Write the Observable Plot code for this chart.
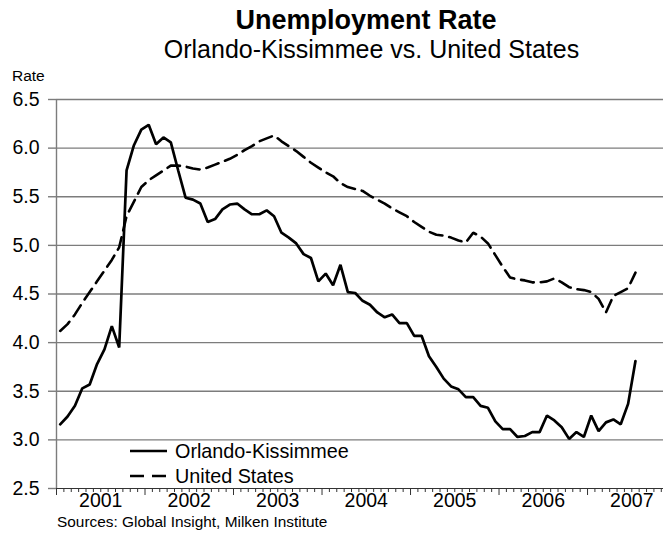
<!DOCTYPE html>
<html>
<head>
<meta charset="utf-8">
<script src="https://cdn.jsdelivr.net/npm/d3@7"></script>
<script src="https://cdn.jsdelivr.net/npm/@observablehq/plot@0.6"></script>
<style>
  html, body { margin: 0; padding: 0; background: white; }
  #wrap { position: relative; width: 663px; height: 541px; overflow: hidden; font-family: Arial, "Liberation Sans", sans-serif; color: black; }
  .t { position: absolute; white-space: nowrap; line-height: 1; }
  #plot { position: absolute; left: 0; top: 0; }
</style>
</head>
<body>
<div id="wrap">
  <div id="plot"></div>
  <div class="t" id="title" style="left:0;width:732px;text-align:center;top:7px;font-size:27px;font-weight:bold;">Unemployment Rate</div>
  <div class="t" id="subtitle" style="left:0;width:743px;text-align:center;top:37px;font-size:25px;">Orlando-Kissimmee vs. United States</div>
  <div class="t" id="ylab" style="left:12px;top:68px;font-size:15.5px;">Rate</div>
  <div class="t" id="source" style="left:57px;top:514px;font-size:15.4px;">Sources: Global Insight, Milken Institute</div>
  <svg id="legend" style="position:absolute;left:0;top:0;" width="663" height="541"></svg>
</div>
<script>
// ---- Data (monthly, starting Jan 2001) ----
const years = ["2001", "2002", "2003", "2004", "2005", "2006", "2007"];
const yTicks = [2.5, 3.0, 3.5, 4.0, 4.5, 5.0, 5.5, 6.0, 6.5];
const seriesNames = ["Orlando-Kissimmee", "United States"];
const orlando = [
  3.16, 3.24, 3.35, 3.53, 3.57, 3.78, 3.93, 4.17, 3.95, 5.77,
  6.03, 6.19, 6.24, 6.04, 6.11, 6.06, 5.77, 5.49, 5.47, 5.43,
  5.24, 5.27, 5.37, 5.42, 5.43, 5.37, 5.32, 5.32, 5.36, 5.30,
  5.13, 5.08, 5.02, 4.91, 4.87, 4.63, 4.71, 4.59, 4.80, 4.52,
  4.51, 4.43, 4.39, 4.31, 4.26, 4.29, 4.20, 4.20, 4.07, 4.07,
  3.86, 3.75, 3.63, 3.55, 3.52, 3.44, 3.44, 3.35, 3.33, 3.19,
  3.11, 3.11, 3.03, 3.04, 3.08, 3.08, 3.25, 3.20, 3.13, 3.01,
  3.08, 3.03, 3.25, 3.09, 3.18, 3.21, 3.16, 3.37, 3.81
];
const us = [
  4.12, 4.19, 4.29, 4.41, 4.52, 4.63, 4.74, 4.85, 4.98, 5.30,
  5.45, 5.60, 5.67, 5.72, 5.77, 5.82, 5.82, 5.81, 5.79, 5.78,
  5.80, 5.83, 5.86, 5.89, 5.93, 5.98, 6.02, 6.07, 6.10, 6.13,
  6.07, 6.02, 5.97, 5.91, 5.85, 5.80, 5.75, 5.71, 5.64, 5.60,
  5.58, 5.56, 5.51, 5.47, 5.43, 5.38, 5.34, 5.30, 5.24, 5.19,
  5.14, 5.11, 5.10, 5.08, 5.05, 5.03, 5.13, 5.09, 5.02, 4.90,
  4.78, 4.67, 4.65, 4.64, 4.62, 4.62, 4.63, 4.66, 4.62, 4.57,
  4.55, 4.54, 4.52, 4.45, 4.31, 4.48, 4.52, 4.56, 4.72
];

// month-unit x positions (0 = start of Jan 2001)
const yearStarts = years.map((y, i) => i * 12);
const yearMids = years.map((y, i) => i * 12 + 6);
const monthTicks = d3.range(1, 83).filter(m => m % 12 !== 0);
const gridVals = yTicks.filter(v => v > 2.5);

const grey = "#7c7c7c";
const chart = Plot.plot({
  width: 663,
  height: 541,
  marginTop: 99,
  marginBottom: 53,
  marginLeft: 56,
  marginRight: 0,
  x: {domain: [0, 82.3], axis: null},
  y: {domain: [2.5, 6.5], axis: null},
  style: {fontFamily: 'Arial, "Liberation Sans", sans-serif', background: "white", color: "black"},
  marks: [
    Plot.ruleY(gridVals, {stroke: grey, strokeWidth: 1.4}),
    Plot.ruleX([0], {stroke: grey, strokeWidth: 1.4}),
    Plot.axisY({ticks: yTicks, tickSize: 8, tickPadding: 9, fontSize: 19.5, stroke: grey, strokeWidth: 1.4,
      tickFormat: d3.format(".1f"), label: null}),
    Plot.axisX({ticks: monthTicks, tickSize: 4, tickFormat: () => "", label: null, stroke: "#333"}),
    Plot.axisX({ticks: yearStarts, tickSize: 7, tickFormat: () => "", label: null, stroke: "#333"}),
    Plot.axisX({ticks: yearMids, tickSize: 0, tickPadding: 5, fontSize: 19.5, label: null,
      tickFormat: d => years[yearMids.indexOf(d)]}),
    Plot.ruleY([2.5], {stroke: "#333", strokeWidth: 1.2}),
    Plot.line(us, {x: (d, i) => i + 0.5, y: d => d, stroke: "black", strokeWidth: 2.6,
      strokeDasharray: "13,7", strokeLinejoin: "miter", curve: "linear"}),
    Plot.line(orlando, {x: (d, i) => i + 0.5, y: d => d, stroke: "black", strokeWidth: 2.7,
      strokeLinejoin: "miter", curve: "linear"})
  ]
});
document.getElementById("plot").appendChild(chart);

// ---- Legend ----
const lg = d3.select("#legend");
const legendRows = [
  {name: seriesNames[0], dash: null, y: 451},
  {name: seriesNames[1], dash: "14,8", y: 476}
];
legendRows.forEach(r => {
  lg.append("line").attr("x1", 130).attr("x2", 167).attr("y1", r.y).attr("y2", r.y)
    .attr("stroke", "black").attr("stroke-width", 2.7)
    .attr("stroke-dasharray", r.dash);
  lg.append("text").attr("x", 175).attr("y", r.y + 7)
    .attr("font-family", 'Arial, "Liberation Sans", sans-serif').attr("font-size", 19.8)
    .text(r.name);
});
</script>
</body>
</html>
